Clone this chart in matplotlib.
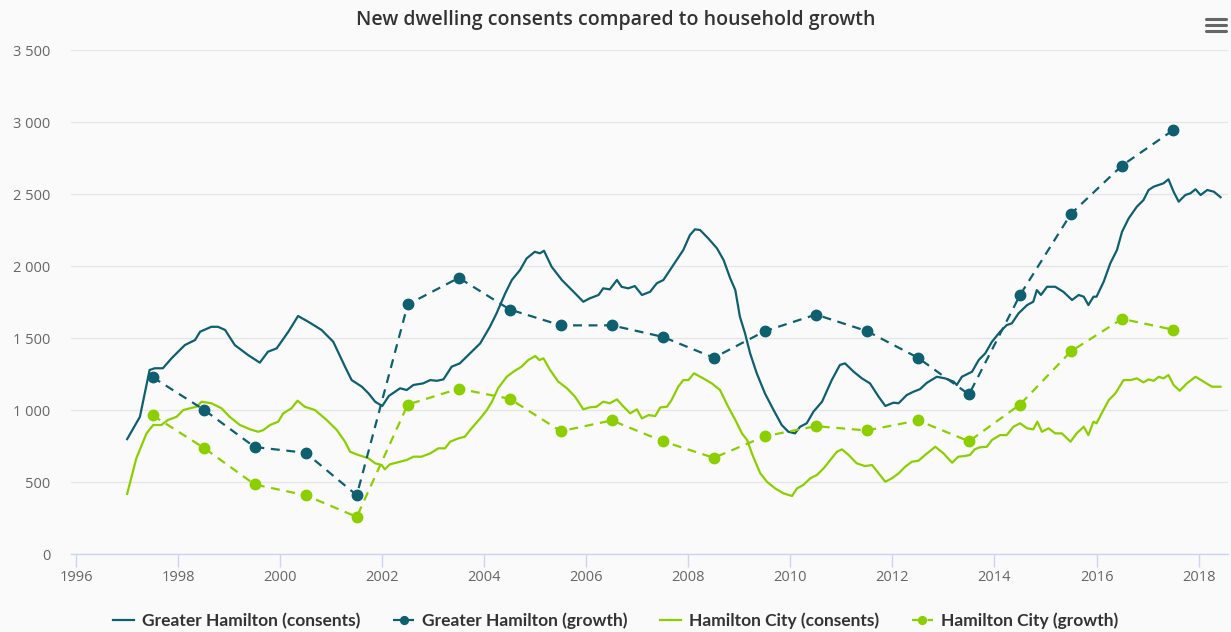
import matplotlib
matplotlib.use("Agg")
import matplotlib.pyplot as plt
from matplotlib.lines import Line2D
from matplotlib.ticker import FuncFormatter, MultipleLocator

TEAL = "#0e5f6f"
LIME = "#8ccf00"
BG = "#fafafa"

# Rolling annual dwelling consents (monthly readings)
gh_cons_years = [
    1997.00, 1997.25, 1997.44, 1997.54, 1997.70, 1997.87, 1998.13, 1998.33, 1998.43, 1998.65,
    1998.78, 1998.92, 1999.11, 1999.37, 1999.60, 1999.76, 1999.93, 2000.16, 2000.35, 2000.55,
    2000.81, 2001.04, 2001.27, 2001.40, 2001.60, 2001.73, 2001.86, 2002.00, 2002.13, 2002.35,
    2002.48, 2002.61, 2002.80, 2002.94, 2003.07, 2003.20, 2003.36, 2003.52, 2003.72, 2003.92,
    2004.11, 2004.24, 2004.41, 2004.54, 2004.70, 2004.83, 2004.99, 2005.09, 2005.17, 2005.32,
    2005.52, 2005.75, 2005.94, 2006.07, 2006.24, 2006.33, 2006.46, 2006.60, 2006.69, 2006.82,
    2006.95, 2007.09, 2007.25, 2007.38, 2007.51, 2007.64, 2007.77, 2007.90, 2008.03, 2008.13,
    2008.23, 2008.39, 2008.56, 2008.69, 2008.82, 2008.92, 2009.01, 2009.11, 2009.21, 2009.34,
    2009.50, 2009.67, 2009.83, 2009.96, 2010.09, 2010.19, 2010.32, 2010.45, 2010.62, 2010.81,
    2010.97, 2011.07, 2011.24, 2011.40, 2011.56, 2011.73, 2011.86, 2012.02, 2012.12, 2012.28,
    2012.41, 2012.54, 2012.67, 2012.87, 2013.03, 2013.20, 2013.26, 2013.36, 2013.56, 2013.69,
    2013.82, 2013.95, 2014.11, 2014.24, 2014.34, 2014.47, 2014.64, 2014.76, 2014.83, 2014.91,
    2015.03, 2015.19, 2015.35, 2015.52, 2015.65, 2015.75, 2015.84, 2015.94, 2016.00, 2016.14,
    2016.27, 2016.40, 2016.50, 2016.63, 2016.79, 2016.92, 2017.02, 2017.12, 2017.22, 2017.31,
    2017.41, 2017.51, 2017.61, 2017.74, 2017.84, 2017.94, 2018.04, 2018.17, 2018.30, 2018.43,
]
gh_cons = [
    800, 955, 1280, 1292, 1292, 1361, 1453, 1488, 1546, 1580,
    1580, 1558, 1453, 1384, 1331, 1407, 1430, 1546, 1655, 1615,
    1558, 1476, 1303, 1210, 1164, 1118, 1060, 1030, 1100, 1153,
    1141, 1176, 1187, 1210, 1205, 1215, 1303, 1326, 1396, 1465,
    1580, 1673, 1812, 1905, 1974, 2055, 2101, 2090, 2108, 1997,
    1905, 1823, 1754, 1778, 1801, 1847, 1840, 1905, 1858, 1847,
    1863, 1801, 1823, 1882, 1905, 1974, 2044, 2113, 2217, 2257,
    2252, 2194, 2125, 2044, 1917, 1835, 1650, 1535, 1396, 1257,
    1118, 1002, 898, 851, 840, 886, 910, 990, 1060, 1210,
    1315, 1326, 1268, 1222, 1187, 1094, 1030, 1053, 1049, 1106,
    1129, 1147, 1190, 1233, 1222, 1199, 1176, 1233, 1268, 1349,
    1396, 1476, 1546, 1592, 1604, 1673, 1731, 1754, 1835, 1801,
    1858, 1858, 1823, 1766, 1801, 1789, 1731, 1789, 1789, 1893,
    2021, 2113, 2240, 2333, 2414, 2460, 2530, 2553, 2565, 2576,
    2604, 2518, 2449, 2495, 2507, 2535, 2495, 2530, 2518, 2480,
]

hc_cons_years = [
    1997.00, 1997.18, 1997.38, 1997.51, 1997.67, 1997.80, 1997.97, 1998.10, 1998.23, 1998.36,
    1998.46, 1998.65, 1998.85, 1999.01, 1999.21, 1999.41, 1999.57, 1999.67, 1999.80, 1999.96,
    2000.06, 2000.22, 2000.34, 2000.48, 2000.68, 2000.91, 2001.11, 2001.27, 2001.37, 2001.53,
    2001.73, 2001.86, 2001.99, 2002.05, 2002.15, 2002.35, 2002.48, 2002.61, 2002.77, 2002.94,
    2003.10, 2003.23, 2003.33, 2003.49, 2003.62, 2003.75, 2003.92, 2004.05, 2004.15, 2004.27,
    2004.44, 2004.57, 2004.73, 2004.86, 2005.00, 2005.08, 2005.16, 2005.29, 2005.45, 2005.62,
    2005.78, 2005.94, 2006.07, 2006.20, 2006.33, 2006.46, 2006.60, 2006.73, 2006.86, 2006.99,
    2007.09, 2007.22, 2007.35, 2007.45, 2007.58, 2007.67, 2007.80, 2007.90, 2008.00, 2008.11,
    2008.29, 2008.46, 2008.62, 2008.78, 2008.92, 2009.05, 2009.15, 2009.27, 2009.41, 2009.54,
    2009.70, 2009.86, 2010.03, 2010.13, 2010.25, 2010.39, 2010.52, 2010.65, 2010.78, 2010.91,
    2011.01, 2011.14, 2011.30, 2011.46, 2011.60, 2011.73, 2011.86, 2011.99, 2012.12, 2012.25,
    2012.38, 2012.51, 2012.64, 2012.84, 2013.00, 2013.17, 2013.29, 2013.42, 2013.52, 2013.61,
    2013.71, 2013.85, 2013.95, 2014.11, 2014.24, 2014.37, 2014.50, 2014.64, 2014.76, 2014.84,
    2014.93, 2015.06, 2015.19, 2015.32, 2015.49, 2015.61, 2015.75, 2015.84, 2015.94, 2016.00,
    2016.10, 2016.24, 2016.37, 2016.53, 2016.67, 2016.79, 2016.92, 2017.02, 2017.12, 2017.22,
    2017.31, 2017.41, 2017.51, 2017.63, 2017.77, 2017.94, 2018.10, 2018.26, 2018.43,
]
hc_cons = [
    420, 667, 840, 898, 898, 933, 955, 1002, 1014, 1025,
    1060, 1049, 1014, 955, 898, 868, 851, 863, 898, 921,
    979, 1014, 1067, 1025, 1002, 933, 863, 782, 712, 690,
    667, 632, 620, 590, 625, 643, 655, 678, 678, 701,
    736, 736, 782, 805, 817, 875, 944, 1002, 1060, 1153,
    1233, 1268, 1303, 1349, 1377, 1349, 1361, 1280, 1199, 1153,
    1094, 1007, 1021, 1025, 1060, 1049, 1076, 1025, 979, 1007,
    944, 967, 960, 1020, 1025, 1071, 1164, 1210, 1210, 1257,
    1222, 1187, 1141, 1025, 933, 840, 794, 678, 562, 504,
    458, 424, 405, 458, 481, 528, 551, 597, 655, 712,
    729, 690, 632, 613, 620, 562, 504, 528, 562, 608,
    643, 650, 690, 747, 701, 636, 678, 683, 690, 729,
    743, 747, 794, 828, 828, 886, 910, 875, 868, 921,
    851, 875, 840, 840, 782, 840, 886, 828, 921, 910,
    979, 1071, 1118, 1210, 1210, 1222, 1194, 1215, 1205, 1233,
    1222, 1245, 1176, 1136, 1187, 1233, 1199, 1164, 1164,
]

# Annual household growth, plotted at mid-year
growth_years = [1997.5 + i for i in range(21)]
gh_growth = [1230, 1005, 745, 705, 410, 1735, 1920, 1700, 1590, 1590, 1510,
             1365, 1550, 1665, 1550, 1365, 1110, 1800, 2365, 2700, 2945]
hc_growth = [965, 740, 485, 410, 260, 1040, 1150, 1080, 855, 930, 785,
             670, 820, 890, 860, 930, 785, 1040, 1410, 1635, 1560]

fig = plt.figure(figsize=(12.31, 6.32), dpi=100, facecolor=BG)
ax = fig.add_axes([0.0577, 0.1229, 0.940, 0.7975], facecolor=BG)

dash = (4, 3)
ax.plot(gh_cons_years, gh_cons, color=TEAL, lw=1.6,
        label="Greater Hamilton (consents)", zorder=3)
ax.plot(growth_years, gh_growth, color=TEAL, lw=1.6, ls=(0, dash),
        marker="o", ms=7.5, label="Greater Hamilton (growth)", zorder=4)
ax.plot(hc_cons_years, hc_cons, color=LIME, lw=1.6,
        label="Hamilton City (consents)", zorder=3)
ax.plot(growth_years, hc_growth, color=LIME, lw=1.6, ls=(0, dash),
        marker="o", ms=7.5, label="Hamilton City (growth)", zorder=4)

ax.set_xlim(1995.9, 2018.58)
ax.set_ylim(0, 3500)
ax.xaxis.set_major_locator(MultipleLocator(2))
ax.yaxis.set_major_locator(MultipleLocator(500))
ax.yaxis.set_major_formatter(FuncFormatter(lambda v, _: f"{int(v):,}".replace(",", " ")))

ax.grid(axis="y", color="#e6e6e6", lw=1)
ax.set_axisbelow(True)
for side in ("top", "right", "left"):
    ax.spines[side].set_visible(False)
ax.spines["bottom"].set_color("#ccd6eb")
ax.spines["bottom"].set_linewidth(1)

ax.tick_params(axis="y", length=0, pad=15, labelsize=10.5, labelcolor="#666666")
ax.tick_params(axis="x", length=9, width=1, color="#ccd6eb", pad=2,
               labelsize=10.5, labelcolor="#666666")
for lab in ax.get_xticklabels() + ax.get_yticklabels():
    lab.set_family("Open Sans")

fig.text(0.5, 1 - 20 / 632, "New dwelling consents compared to household growth",
         ha="center", va="center", fontsize=14, fontweight="semibold",
         color="#333333", family="Open Sans")

# export menu glyph
for yy in (19, 25, 31):
    fig.add_artist(Line2D([1206 / 1231, 1226 / 1231], [1 - yy / 632] * 2,
                          color="#666666", lw=2.2, solid_capstyle="round"))

fig.legend(loc="center", bbox_to_anchor=(0.5, 1 - 621 / 632), ncol=4,
           frameon=False, handlelength=1.2, columnspacing=1.9, handletextpad=0.45,
           prop={"family": "Lato", "weight": "bold", "size": 12.5},
           labelcolor="#333333", markerscale=0.75)

fig.savefig("out.png", dpi=100, facecolor=BG)
